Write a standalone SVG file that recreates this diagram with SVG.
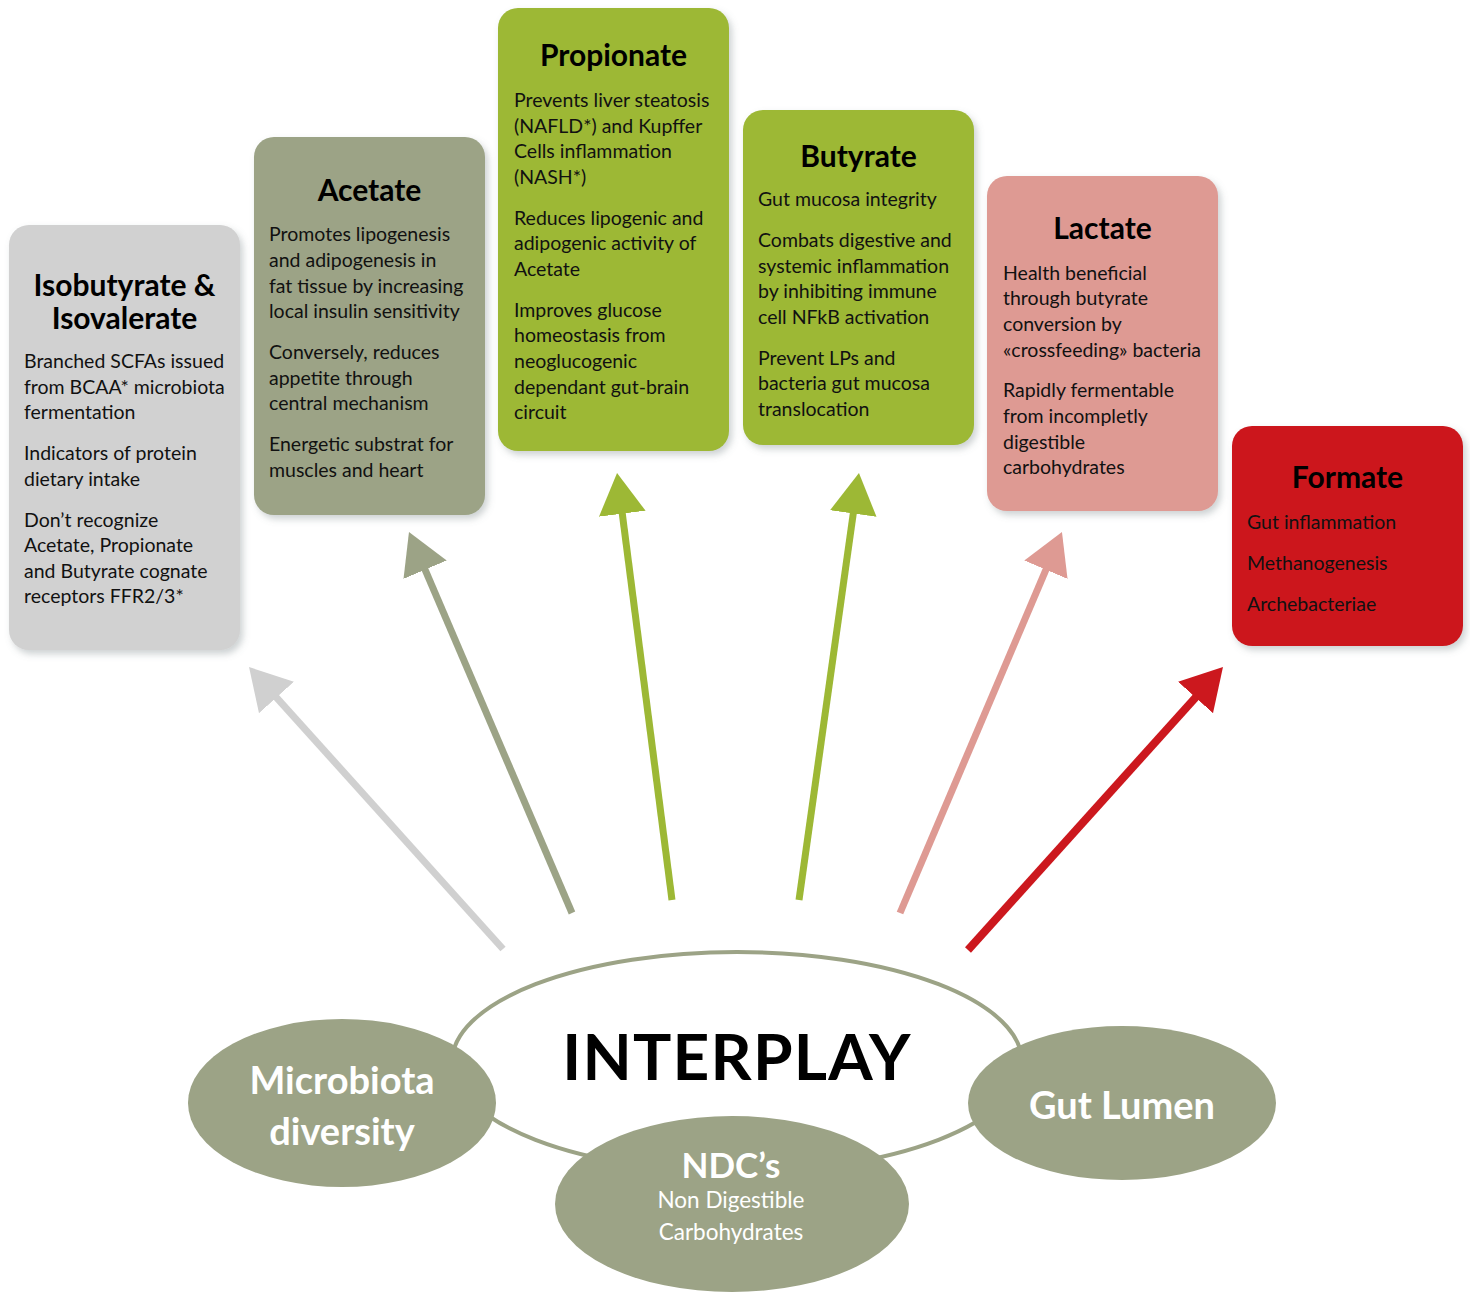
<svg xmlns="http://www.w3.org/2000/svg" width="1470" height="1292" viewBox="0 0 1470 1292">
  <style>
    .title { font-family: Lato, "Liberation Sans", sans-serif; font-weight: bold; font-size: 30px; fill: #000; text-anchor: middle; }
    .body { font-family: Lato, "Liberation Sans", sans-serif; font-size: 19.5px; fill: #111; }
    .box { filter: url(#shadow); }
    .arrow { fill: none; stroke-linecap: butt; }
    .oval { fill: #9ca386; }
    .oval-text { font-family: Lato, "Liberation Sans", sans-serif; font-weight: bold; fill: #fff; text-anchor: middle; }
    .oval-sub { font-family: Lato, "Liberation Sans", sans-serif; font-size: 22.5px; fill: #fff; text-anchor: middle; }
  </style>
  <defs>
    <filter id="shadow" x="-10%" y="-10%" width="125%" height="125%">
      <feDropShadow dx="3" dy="4" stdDeviation="3.5" flood-color="#6d7b80" flood-opacity="0.35"/>
    </filter>
    <marker id="head-grey" viewBox="0 0 41 47" refX="14" refY="23.5" markerWidth="41" markerHeight="47" markerUnits="userSpaceOnUse" orient="auto">
      <path d="M0,0 L41,23.5 L0,47 z" fill="#d0d0d0"/>
    </marker>
    <marker id="head-olive" viewBox="0 0 41 47" refX="14" refY="23.5" markerWidth="41" markerHeight="47" markerUnits="userSpaceOnUse" orient="auto">
      <path d="M0,0 L41,23.5 L0,47 z" fill="#9ca386"/>
    </marker>
    <marker id="head-green" viewBox="0 0 41 47" refX="14" refY="23.5" markerWidth="41" markerHeight="47" markerUnits="userSpaceOnUse" orient="auto">
      <path d="M0,0 L41,23.5 L0,47 z" fill="#9db835"/>
    </marker>
    <marker id="head-pink" viewBox="0 0 41 47" refX="14" refY="23.5" markerWidth="41" markerHeight="47" markerUnits="userSpaceOnUse" orient="auto">
      <path d="M0,0 L41,23.5 L0,47 z" fill="#de9a93"/>
    </marker>
    <marker id="head-red" viewBox="0 0 41 47" refX="14" refY="23.5" markerWidth="41" markerHeight="47" markerUnits="userSpaceOnUse" orient="auto">
      <path d="M0,0 L41,23.5 L0,47 z" fill="#cc181e"/>
    </marker>
  </defs>

  <rect width="1470" height="1292" fill="#fff"/>

  <!-- SCFA boxes -->
  <g id="isobutyrate">
    <rect class="box" x="9" y="225" width="231" height="425" rx="20" fill="#d1d1d1"/>
    <text class="title" x="124.5" y="296">Isobutyrate &amp;</text>
    <text class="title" x="124.5" y="329">Isovalerate</text>
    <text class="body">
      <tspan x="24" y="368">Branched SCFAs issued</tspan>
      <tspan x="24" y="394">from BCAA* microbiota</tspan>
      <tspan x="24" y="419">fermentation</tspan>
      <tspan x="24" y="460">Indicators of protein</tspan>
      <tspan x="24" y="486">dietary intake</tspan>
      <tspan x="24" y="527">Don’t recognize</tspan>
      <tspan x="24" y="552">Acetate, Propionate</tspan>
      <tspan x="24" y="578">and Butyrate cognate</tspan>
      <tspan x="24" y="603">receptors FFR2/3*</tspan>
    </text>
  </g>

  <g id="acetate">
    <rect class="box" x="254" y="137" width="231" height="378" rx="20" fill="#9ca386"/>
    <text class="title" x="369.5" y="201">Acetate</text>
    <text class="body">
      <tspan x="269" y="241">Promotes lipogenesis</tspan>
      <tspan x="269" y="267">and adipogenesis in</tspan>
      <tspan x="269" y="293">fat tissue by increasing</tspan>
      <tspan x="269" y="318">local insulin sensitivity</tspan>
      <tspan x="269" y="359">Conversely, reduces</tspan>
      <tspan x="269" y="385">appetite through</tspan>
      <tspan x="269" y="410">central mechanism</tspan>
      <tspan x="269" y="451">Energetic substrat for</tspan>
      <tspan x="269" y="477">muscles and heart</tspan>
    </text>
  </g>

  <g id="propionate">
    <rect class="box" x="498" y="8" width="231" height="443" rx="20" fill="#9db835"/>
    <text class="title" x="613.5" y="66">Propionate</text>
    <text class="body">
      <tspan x="514" y="107">Prevents liver steatosis</tspan>
      <tspan x="514" y="133">(NAFLD*) and Kupffer</tspan>
      <tspan x="514" y="158">Cells inflammation</tspan>
      <tspan x="514" y="184">(NASH*)</tspan>
      <tspan x="514" y="225">Reduces lipogenic and</tspan>
      <tspan x="514" y="250">adipogenic activity of</tspan>
      <tspan x="514" y="276">Acetate</tspan>
      <tspan x="514" y="317">Improves glucose</tspan>
      <tspan x="514" y="342">homeostasis from</tspan>
      <tspan x="514" y="368">neoglucogenic</tspan>
      <tspan x="514" y="394">dependant gut-brain</tspan>
      <tspan x="514" y="419">circuit</tspan>
    </text>
  </g>

  <g id="butyrate">
    <rect class="box" x="743" y="110" width="231" height="335" rx="20" fill="#9db835"/>
    <text class="title" x="858.5" y="167">Butyrate</text>
    <text class="body">
      <tspan x="758" y="206">Gut mucosa integrity</tspan>
      <tspan x="758" y="247">Combats digestive and</tspan>
      <tspan x="758" y="273">systemic inflammation</tspan>
      <tspan x="758" y="298">by inhibiting immune</tspan>
      <tspan x="758" y="324">cell NFkB activation</tspan>
      <tspan x="758" y="365">Prevent LPs and</tspan>
      <tspan x="758" y="390">bacteria gut mucosa</tspan>
      <tspan x="758" y="416">translocation</tspan>
    </text>
  </g>

  <g id="lactate">
    <rect class="box" x="987" y="176" width="231" height="335" rx="20" fill="#de9a93"/>
    <text class="title" x="1102.5" y="239">Lactate</text>
    <text class="body">
      <tspan x="1003" y="280">Health beneficial</tspan>
      <tspan x="1003" y="305">through butyrate</tspan>
      <tspan x="1003" y="331">conversion by</tspan>
      <tspan x="1003" y="357">«crossfeeding» bacteria</tspan>
      <tspan x="1003" y="397">Rapidly fermentable</tspan>
      <tspan x="1003" y="423">from incompletly</tspan>
      <tspan x="1003" y="449">digestible</tspan>
      <tspan x="1003" y="474">carbohydrates</tspan>
    </text>
  </g>

  <g id="formate">
    <rect class="box" x="1232" y="426" width="231" height="220" rx="20" fill="#cc181e"/>
    <text class="title" x="1347.5" y="488">Formate</text>
    <text class="body">
      <tspan x="1247" y="529">Gut inflammation</tspan>
      <tspan x="1247" y="570">Methanogenesis</tspan>
      <tspan x="1247" y="611">Archebacteriae</tspan>
    </text>
  </g>

  <!-- Arrows from the interplay hub to each SCFA -->
  <g id="connectors" class="arrow">
    <line x1="503" y1="949" x2="267.1" y2="687.1" stroke="#d0d0d0" stroke-width="7" marker-end="url(#head-grey)"/>
    <line x1="572" y1="913" x2="419.6" y2="556.8" stroke="#9ca386" stroke-width="7" marker-end="url(#head-olive)"/>
    <line x1="672" y1="900" x2="620.5" y2="499.8" stroke="#9db835" stroke-width="7" marker-end="url(#head-green)"/>
    <line x1="799" y1="900" x2="855.2" y2="499.7" stroke="#9db835" stroke-width="7" marker-end="url(#head-green)"/>
    <line x1="900" y1="913" x2="1051.4" y2="556.8" stroke="#de9a93" stroke-width="7" marker-end="url(#head-pink)"/>
    <line x1="968" y1="950" x2="1204.9" y2="687.1" stroke="#cc181e" stroke-width="8" marker-end="url(#head-red)"/>
  </g>

  <!-- Interplay hub -->
  <g id="interplay">
    <ellipse cx="737" cy="1062" rx="285" ry="110" fill="#fff" stroke="#9ca386" stroke-width="4"/>
    <text x="737" y="1080" font-family="Lato, 'Liberation Sans', sans-serif" font-weight="bold" font-size="64" letter-spacing="1.2" text-anchor="middle" fill="#000">INTERPLAY</text>
  </g>

  <g id="microbiota">
    <ellipse class="oval" cx="342" cy="1103" rx="154" ry="84"/>
    <text class="oval-text" x="342" y="1094" font-size="38">Microbiota</text>
    <text class="oval-text" x="342" y="1145" font-size="38">diversity</text>
  </g>

  <g id="gut-lumen">
    <ellipse class="oval" cx="1122" cy="1103" rx="154" ry="77"/>
    <text class="oval-text" x="1122" y="1119" font-size="38">Gut Lumen</text>
  </g>

  <g id="ndc">
    <ellipse class="oval" cx="732" cy="1204" rx="177" ry="88"/>
    <text class="oval-text" x="731" y="1178" font-size="35">NDC’s</text>
    <text class="oval-sub" x="731" y="1208">Non Digestible</text>
    <text class="oval-sub" x="731" y="1240">Carbohydrates</text>
  </g>
</svg>
